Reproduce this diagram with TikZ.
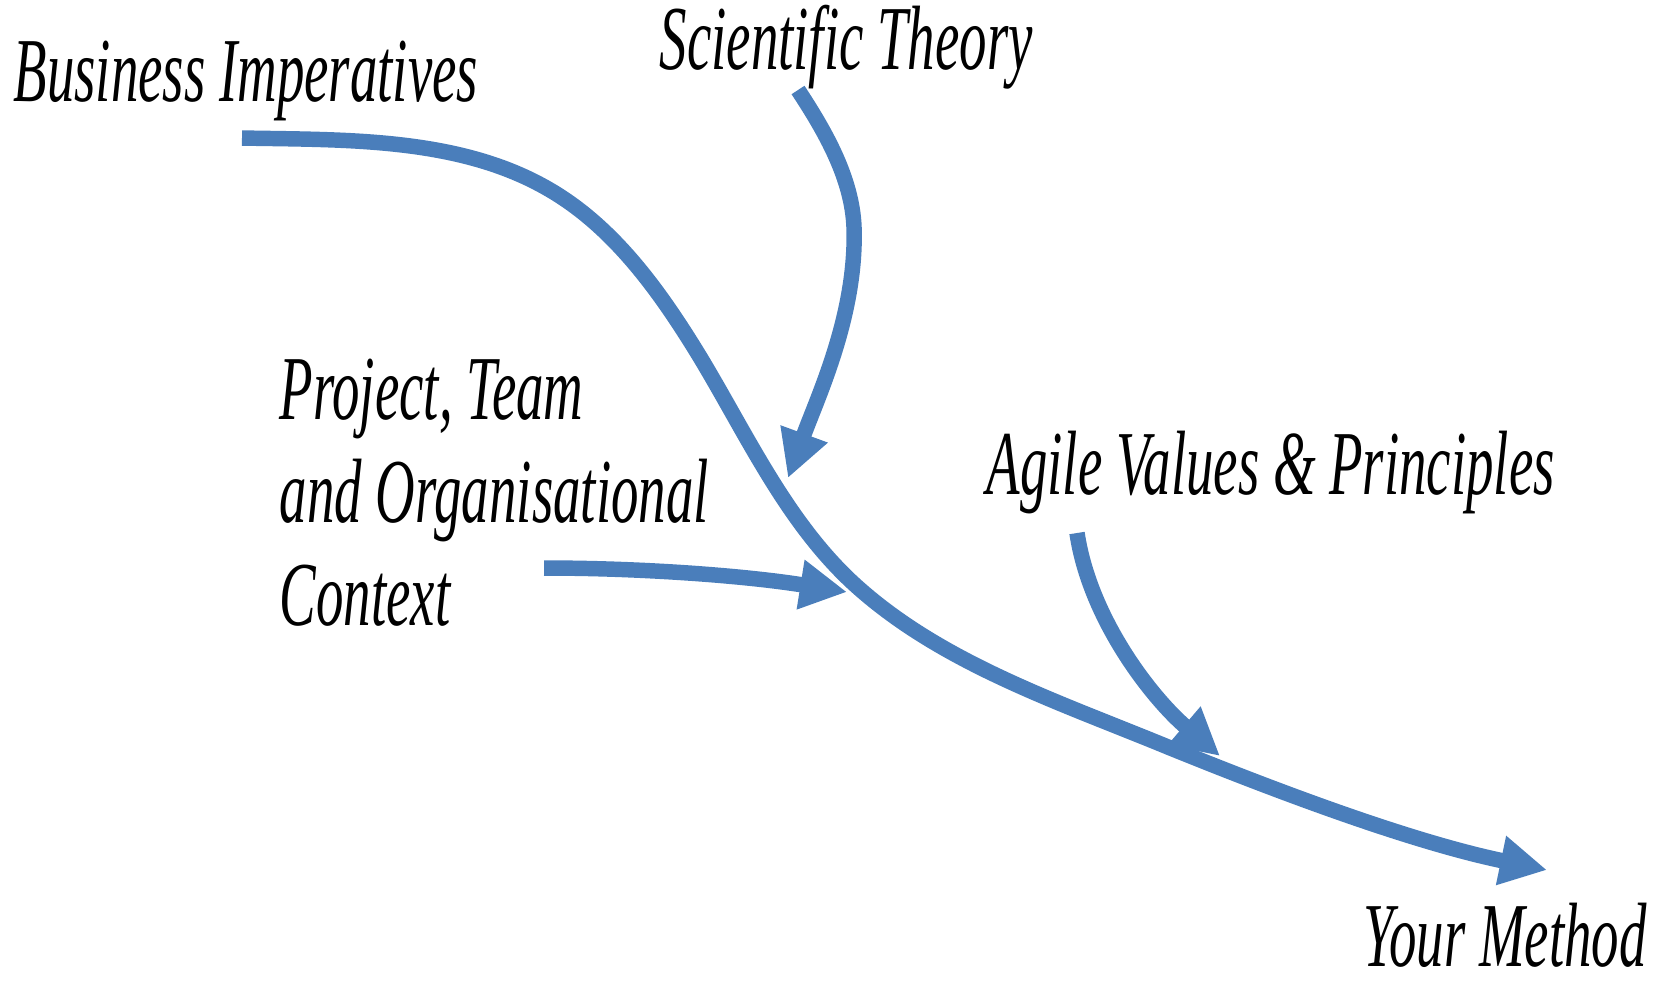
\documentclass[tikz,border=0pt]{standalone}
\usepackage{fontspec}
\newfontfamily\handfont{Liberation Serif Italic}[FakeStretch=0.6]
\usepackage{tikz}
\usetikzlibrary{arrows.meta}
\definecolor{flowblue}{RGB}{74,126,187}

\tikzset{
  flow/.style={line width=4.4pt, flowblue, -{Triangle[length=0.47cm,width=0.47cm]}},
  handtext/.style={font=\handfont\fontsize{26}{29.3}\selectfont, inner sep=0pt, anchor=base west, align=left}
}

\begin{document}
\begin{tikzpicture}
  % Page frame
  \useasboundingbox (0,0) rectangle (16.66,-9.80);

  % Labels
  \node [handtext] (business) at (0.13,-1.01) {Business Imperatives};
  \node [handtext] (science) at (6.59,-0.69) {Scientific Theory};
  \node [handtext] (context) at (2.79,-6.25) {Project, Team\\and Organisational\\Context};
  \node [handtext] (agile) at (9.86,-4.94) {Agile Values \& Principles};
  \node [handtext] (method) at (13.63,-9.66) {Your Method};

  % Ends of the flows
  \coordinate (bizstart) at (2.42,-1.38);
  \coordinate (methodtip) at (15.47,-8.70);
  \coordinate (scistart) at (7.98,-0.90);
  \coordinate (scitip) at (7.88,-4.78);
  \coordinate (ctxstart) at (5.44,-5.68);
  \coordinate (ctxtip) at (8.47,-5.92);
  \coordinate (agilestart) at (10.77,-5.33);
  \coordinate (agiletip) at (12.20,-7.56);

  % Main flow
  \draw [flow] (bizstart) .. controls (3.46,-1.40) and (4.60,-1.37) .. (5.50,-1.90)
    .. controls (6.15,-2.28) and (6.61,-2.93) .. (7.00,-3.57)
    .. controls (7.47,-4.35) and (7.86,-5.21) .. (8.53,-5.83)
    .. controls (9.40,-6.63) and (10.59,-7.02) .. (11.68,-7.47)
    .. controls (12.91,-7.97) and (14.17,-8.43) .. (methodtip);

  % Side flows
  \draw [flow] (scistart) .. controls (8.25,-1.31) and (8.52,-1.78) .. (8.54,-2.27)
    .. controls (8.57,-3.14) and (8.18,-3.96) .. (scitip);
  \draw [flow] (ctxstart) .. controls (6.45,-5.68) and (7.47,-5.76) .. (ctxtip);
  \draw [flow] (agilestart) .. controls (10.90,-6.20) and (11.53,-6.99) .. (agiletip);
\end{tikzpicture}
\end{document}
